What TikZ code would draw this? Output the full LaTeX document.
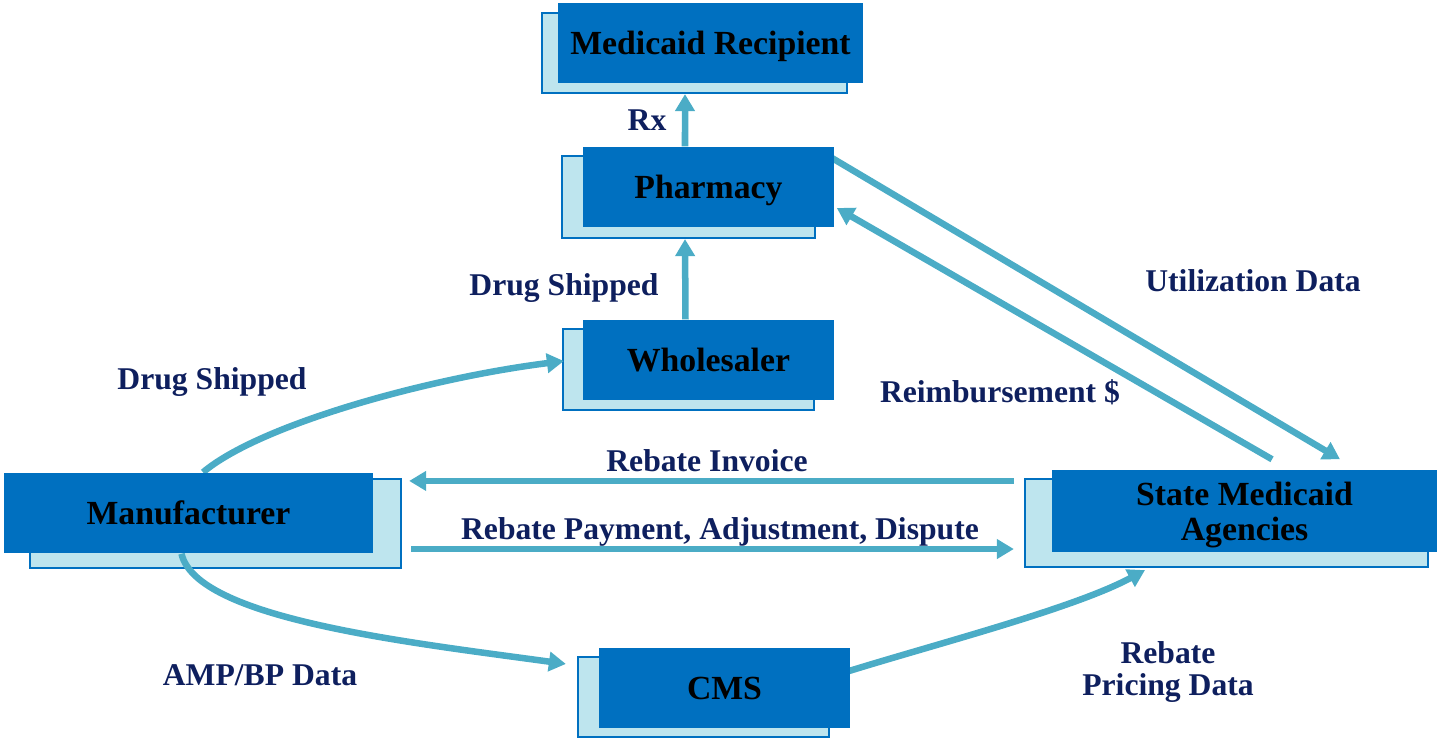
\documentclass[tikz,border=0pt]{standalone}
\usepackage{fontspec}
\usepackage{tikz}
\usetikzlibrary{arrows.meta}
\newfontfamily\labelfont{Liberation Serif}
\definecolor{boxblue}{HTML}{0070C0}
\definecolor{backblue}{HTML}{BEE5EE}
\definecolor{flowteal}{HTML}{4BACC6}
\definecolor{labelnavy}{HTML}{0E1F5E}
\pgfdeclarelayer{backs}
\pgfdeclarelayer{links}
\pgfsetlayers{backs,links,main}

\begin{document}
\begin{tikzpicture}[x=0.01cm,y=-0.01cm,
        topbox/.style={fill=boxblue, inner sep=0pt, minimum height=0.8cm, align=center, text depth=0pt,
            font=\labelfont\fontsize{9.6}{10}\selectfont\bfseries},
        backbox/.style={fill=backblue, draw=boxblue, line width=0.6pt, inner sep=0pt},
        flow/.style={draw=flowteal, line width=0.065cm, -{Triangle[length=0.17cm,width=0.19cm]}},
        lbl/.style={text=labelnavy, inner sep=0pt, align=center,
            font=\labelfont\fontsize{9}{9.2}\selectfont\bfseries}]
    \useasboundingbox (0,0) rectangle (1437,738);

    % front boxes
    \node[topbox, minimum width=3.05cm] (recip) at (710.5,43) {Medicaid Recipient};
    \node[topbox, minimum width=2.51cm] (pharm) at (708.5,187) {Pharmacy};
    \node[topbox, minimum width=2.51cm] (whole) at (708.5,360) {Wholesaler};
    \node[topbox, minimum width=3.69cm] (manu) at (188.5,513) {Manufacturer};
    \node[topbox, minimum width=3.85cm, minimum height=0.82cm] (state) at (1244.5,511) {State Medicaid\\Agencies};
    \node[topbox, minimum width=2.51cm] (cms) at (724.5,688) {CMS};

    % light boxes behind them
    \begin{pgfonlayer}{backs}
        \node[backbox, minimum width=3.05cm, minimum height=0.8cm] (recipS) at (694.5,53) {};
        \node[backbox, minimum width=2.53cm, minimum height=0.82cm] (pharmS) at (688.5,197) {};
        \node[backbox, minimum width=2.51cm, minimum height=0.81cm] (wholeS) at (688.5,369.5) {};
        \node[backbox, minimum width=3.71cm, minimum height=0.89cm] (manuS) at (215.5,523.5) {};
        \node[backbox, minimum width=4.03cm, minimum height=0.88cm] (stateS) at (1226.5,523) {};
        \node[backbox, minimum width=2.51cm, minimum height=0.8cm] (cmsS) at (703.5,697) {};
    \end{pgfonlayer}

    \begin{pgfonlayer}{links}
        \draw[flow] ([xshift=-0.235cm]pharm.north) -- ([xshift=-0.095cm]recipS.south);
        \draw[flow] ([xshift=-0.23cm]whole.north) -- ([xshift=-0.035cm]pharmS.south);
        \draw[flow] ([shift={(-4,11)}]pharm.north east) -- ([shift={(95.5,-10)}]state.north);
        \draw[flow] ([shift={(27.5,-10)}]state.north) -- ([shift={(2,21)}]pharm.east);
        \draw[flow] ([shift={(-10,3)}]stateS.north west) -- ([shift={(7,3)}]manuS.north east);
        \draw[flow] ([shift={(9,25.5)}]manuS.east) -- ([shift={(-10,26)}]stateS.west);
        \draw[flow] ([xshift=0.145cm]manu.north) .. controls +(57,-48) and +(-135,17) .. ([shift={(2,-8.5)}]wholeS.west);
        \draw[flow] ([xshift=-0.07cm]manu.south) .. controls +(15,65) and +(-160,-22) .. ([shift={(-11,8)}]cmsS.north west);
        \draw[flow] ([shift={(-5,-16)}]cms.east) .. controls +(90,-28) and +(-70,38) .. ([shift={(-81.5,2)}]stateS.south);
    \end{pgfonlayer}

    % labels
    \node[lbl, anchor=base] (rxL) at (647,130) {Rx};
    \node[lbl, anchor=base] (shipL) at (564,295) {Drug Shipped};
    \node[lbl, anchor=base] (shipL2) at (212,389) {Drug Shipped};
    \node[lbl, anchor=base] (useL) at (1253,291) {Utilization Data};
    \node[lbl, anchor=base] (reimbL) at (1000,402) {Reimbursement \$};
    \node[lbl, anchor=base] (invL) at (707,471) {Rebate Invoice};
    \node[lbl, anchor=base] (payL) at (720,539) {Rebate Payment, Adjustment, Dispute};
    \node[lbl, anchor=base] (ampL) at (260,685) {AMP/BP Data};
    \node[lbl] (priceL) at (1168,672) {Rebate\\Pricing Data};
\end{tikzpicture}
\end{document}
